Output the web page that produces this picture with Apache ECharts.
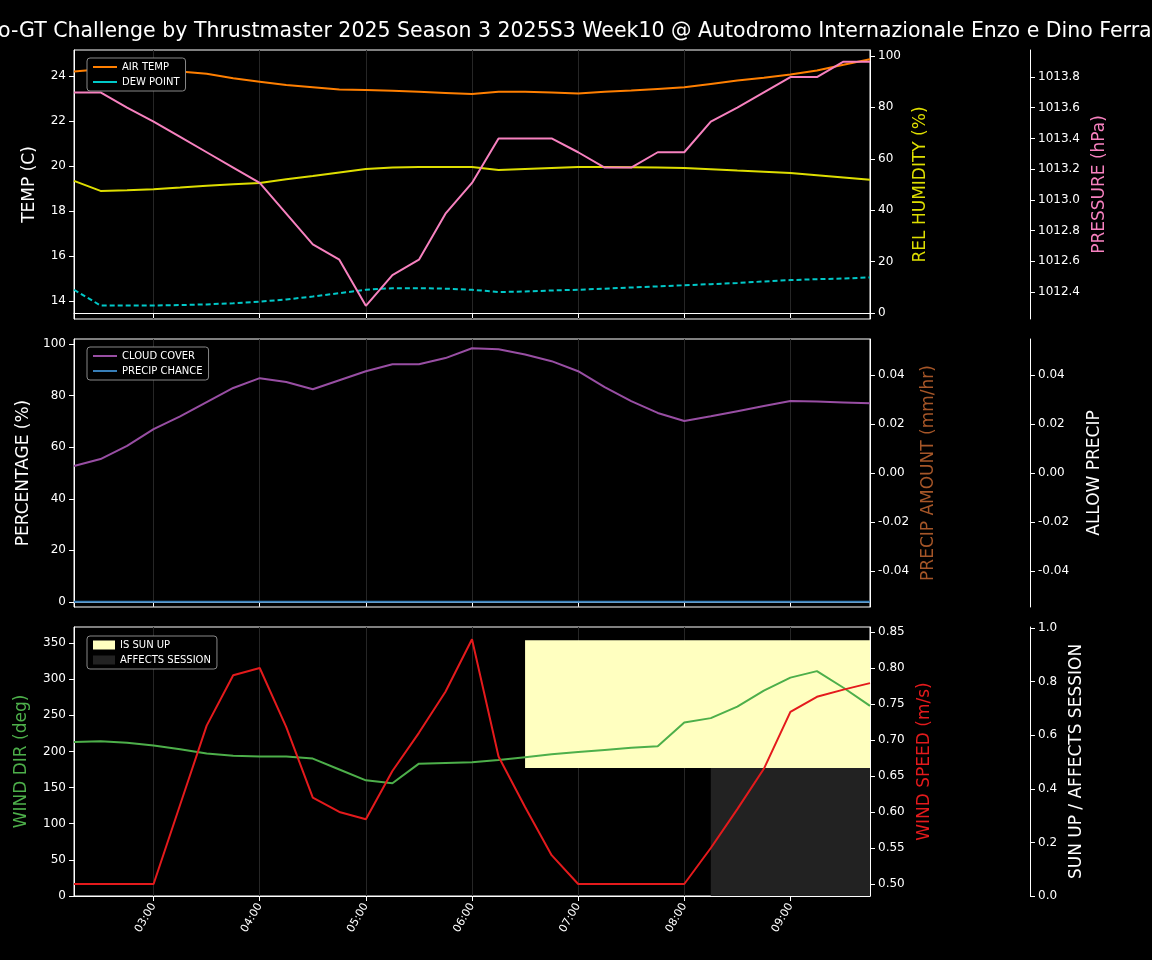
<!DOCTYPE html>
<html><head><meta charset="utf-8">
<script src="https://cdn.jsdelivr.net/npm/echarts@6/dist/echarts.min.js"></script>
<style>html,body{margin:0;background:#000}#c{width:1152px;height:960px}</style>
</head><body><div id="c"></div>
<script>
var times = ['02:15','02:30','02:45','03:00','03:15','03:30','03:45','04:00','04:15','04:30','04:45','05:00','05:15','05:30','05:45','06:00','06:15','06:30','06:45','07:00','07:15','07:30','07:45','08:00','08:15','08:30','08:45','09:00','09:15','09:30','09:45'];
var airTemp = [24.2,24.3,24.3,24.25,24.2,24.1,23.9,23.75,23.6,23.5,23.4,23.38,23.35,23.3,23.25,23.2,23.3,23.3,23.27,23.23,23.3,23.36,23.43,23.5,23.65,23.8,23.93,24.07,24.25,24.5,24.75];
var dewPoint = [14.5,13.8,13.8,13.8,13.82,13.85,13.9,13.97,14.07,14.2,14.35,14.5,14.57,14.57,14.55,14.5,14.4,14.42,14.47,14.5,14.55,14.6,14.65,14.7,14.75,14.8,14.87,14.93,14.97,15.0,15.05];
var humidity = [51.4,47.5,47.8,48.2,48.8,49.5,50.1,50.6,52,53.3,54.7,56,56.6,56.8,56.8,56.8,55.6,56,56.4,56.8,56.8,56.7,56.6,56.4,55.9,55.4,55,54.5,53.6,52.7,51.8];
var pressure = [1013.70,1013.70,1013.60,1013.51,1013.41,1013.31,1013.21,1013.11,1012.91,1012.71,1012.61,1012.31,1012.51,1012.61,1012.91,1013.11,1013.40,1013.40,1013.40,1013.31,1013.21,1013.21,1013.31,1013.31,1013.51,1013.60,1013.70,1013.80,1013.80,1013.90,1013.90];
var cloudCover = [52.7,55.4,60.5,67,72,77.5,83,86.8,85.3,82.5,86,89.5,92.2,92.2,94.6,98.4,98,96,93.4,89.5,83.3,77.9,73.3,70.2,72,74,76,77.9,77.7,77.4,77.1];
var precipChance = [0,0,0,0,0,0,0,0,0,0,0,0,0,0,0,0,0,0,0,0,0,0,0,0,0,0,0,0,0,0,0];
var windDir = [213,214,212,208,203,197,194,193,193,190,175,160,156,183,184,185,188,192,196,199,202,205,207,240,246,262,284,302,311,288,263];
var windSpeed = [0.5,0.5,0.5,0.5,0.61,0.72,0.79,0.80,0.718,0.62,0.60,0.59,0.657,0.71,0.767,0.84,0.677,0.607,0.54,0.5,0.5,0.5,0.5,0.5,0.55,0.604,0.66,0.739,0.76,0.77,0.779];
var sunLow = [null,null,null,null,null,null,null,null,null,null,null,null,null,null,null,null,null,0.478,0.478,0.478,0.478,0.478,0.478,0.478,0.478,0.478,0.478,0.478,0.478,0.478,0.478];
var sunUp = [null,null,null,null,null,null,null,null,null,null,null,null,null,null,null,null,null,0.477,0.477,0.477,0.477,0.477,0.477,0.477,0.477,0.477,0.477,0.477,0.477,0.477,0.477];
var affects = [null,null,null,null,null,null,null,null,null,null,null,null,null,null,null,null,null,null,null,null,null,null,null,null,0.478,0.478,0.478,0.478,0.478,0.478,0.478];

var hourIdx = function (i) { return i % 4 === 3; };
var F = 'DejaVu Sans';
function xAx(g, labels) {
  return {
    type: 'category', gridIndex: g, data: times, boundaryGap: false,
    axisLine: { lineStyle: { color: '#fff' } },
    axisTick: { interval: hourIdx, length: 5, lineStyle: { color: '#fff' } },
    axisLabel: { show: labels, interval: hourIdx, rotate: 60, color: '#fff', fontSize: 11, fontFamily: F, margin: 8 },
    splitLine: { show: true, interval: hourIdx, lineStyle: { color: '#262626', width: 1 } }
  };
}
function yAx(g, o) {
  return {
    type: 'value', gridIndex: g, position: o.pos || 'left', offset: o.offset || 0,
    min: o.min, max: o.max, splitNumber: o.split || 5,
    name: o.name, nameLocation: 'middle', nameGap: o.gap || 40,
    nameTextStyle: { color: o.color || '#fff', fontSize: 17, fontFamily: F },
    axisLine: { show: true, lineStyle: { color: '#fff' } },
    axisTick: { show: true, length: 5, lineStyle: { color: '#fff' } },
    axisLabel: { color: '#fff', fontSize: 12, fontFamily: F, showMinLabel: !!o.showMin, showMaxLabel: !!o.showMax, formatter: o.fmt },
    splitLine: { show: false }
  };
}
function line(name, data, x, y, color, extra) {
  var s = { name: name, type: 'line', data: data, xAxisIndex: x, yAxisIndex: y, symbol: 'none',
    lineStyle: { color: color, width: 2 }, itemStyle: { color: color }, z: 3 };
  for (var k in extra) s[k] = extra[k];
  return s;
}
var legendBase = { orient: 'vertical', backgroundColor: '#000', borderColor: '#888', borderWidth: 1, borderRadius: 3,
  padding: [4, 6], itemGap: 5, itemWidth: 24, itemHeight: 2, icon: 'rect', textStyle: { color: '#fff', fontSize: 10, fontFamily: F } };
function legend(o) { var l = {}; for (var k in legendBase) l[k] = legendBase[k]; for (k in o) l[k] = o[k]; return l; }

var chart = echarts.init(document.getElementById('c'));
chart.setOption({
  backgroundColor: '#000',
  animation: false,
  title: { text: 'Pro-GT Challenge by Thrustmaster 2025 Season 3 2025S3 Week10 @ Autodromo Internazionale Enzo e Dino Ferrari',
    left: -27, top: 16, textStyle: { color: '#fff', fontSize: 20.5, fontWeight: 'normal', fontFamily: F } },
  grid: [
    { left: 74, width: 796, top: 50, height: 269, show: true, borderColor: '#fff', borderWidth: 1 },
    { left: 74, width: 796, top: 339, height: 268, show: true, borderColor: '#fff', borderWidth: 1 },
    { left: 74, width: 796, top: 627, height: 269, show: true, borderColor: '#fff', borderWidth: 1 }
  ],
  legend: [
    legend({ left: 87, top: 58, data: ['AIR TEMP', 'DEW POINT'] }),
    legend({ left: 87, top: 347, data: ['CLOUD COVER', 'PRECIP CHANCE'] }),
    legend({ left: 87, top: 636, itemWidth: 22, itemHeight: 9, data: ['IS SUN UP', 'AFFECTS SESSION'] })
  ],
  xAxis: [xAx(0, false), xAx(1, false), xAx(2, true)],
  yAxis: [
    yAx(0, { min: 13.2, max: 25.16, name: 'TEMP (C)', gap: 36 }),
    yAx(0, { pos: 'right', min: -2.3, max: 102.3, name: 'REL HUMIDITY (%)', color: '#dede00', gap: 42 }),
    yAx(0, { pos: 'right', offset: 160, min: 1012.224, max: 1013.976, split: 8, name: 'PRESSURE (hPa)', color: '#f781bf', gap: 60,
      fmt: function (v) { return v.toFixed(1); } }),
    yAx(1, { min: -2, max: 102, name: 'PERCENTAGE (%)', gap: 42 }),
    yAx(1, { pos: 'right', min: -0.0547, max: 0.0547, name: 'PRECIP AMOUNT (mm/hr)', color: '#a65628', gap: 50,
      fmt: function (v) { return v.toFixed(2); } }),
    yAx(1, { pos: 'right', offset: 160, min: -0.0547, max: 0.0547, name: 'ALLOW PRECIP', gap: 56,
      fmt: function (v) { return v.toFixed(2); } }),
    yAx(2, { min: 0, max: 372, split: 7, showMin: true, name: 'WIND DIR (deg)', color: '#4daf4a', gap: 44 }),
    yAx(2, { pos: 'right', min: 0.4833, max: 0.857, split: 7, name: 'WIND SPEED (m/s)', color: '#e41a1c', gap: 46,
      fmt: function (v) { return v.toFixed(2); } }),
    yAx(2, { pos: 'right', offset: 160, min: 0, max: 1.004, showMin: true, name: 'SUN UP / AFFECTS SESSION', gap: 36,
      fmt: function (v) { return v.toFixed(1); } })
  ],
  series: [
    line('AIR TEMP', airTemp, 0, 0, '#ff7f00'),
    line('DEW POINT', dewPoint, 0, 0, '#00c8c8', { lineStyle: { color: '#00c8c8', width: 2, type: [5, 3] } }),
    line('REL HUMIDITY', humidity, 0, 1, '#dede00'),
    line('PRESSURE', pressure, 0, 2, '#f781bf'),
    line('CLOUD COVER', cloudCover, 1, 3, '#984ea3'),
    line('PRECIP CHANCE', precipChance, 1, 3, '#377eb8'),
    line('AFFECTS SESSION', affects, 2, 8, '#222222', { lineStyle: { width: 0 }, areaStyle: { color: '#222222', opacity: 1 }, z: 1 }),
    line('sunbase', sunLow, 2, 8, '#000', { stack: 'sun', lineStyle: { width: 0 }, areaStyle: { opacity: 0 }, z: 1 }),
    line('IS SUN UP', sunUp, 2, 8, '#ffffc0', { stack: 'sun', lineStyle: { width: 0 }, areaStyle: { color: '#ffffc0', opacity: 1 }, z: 1 }),
    line('WIND DIR', windDir, 2, 6, '#4daf4a'),
    line('WIND SPEED', windSpeed, 2, 7, '#e41a1c')
  ]
});
</script>
</body></html>
